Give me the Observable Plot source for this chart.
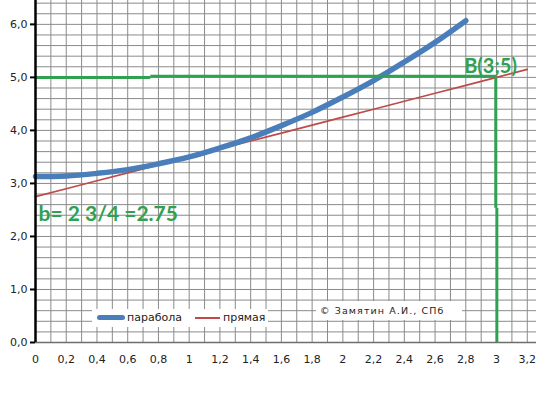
<!DOCTYPE html>
<html>
<head>
<meta charset="utf-8">
<script src="https://cdn.jsdelivr.net/npm/d3@7"></script>
<script src="https://cdn.jsdelivr.net/npm/@observablehq/plot@0.6"></script>
<style>
  html, body { margin: 0; padding: 0; background: #fff; }
  #wrap { position: relative; width: 536px; height: 399px; overflow: hidden; }
  #wrap svg { position: absolute; left: 0; top: 0; }
  .legend { position: absolute; left: 92px; top: 309px; width: 176px; height: 18px; background: #fff;
            font-family: "DejaVu Sans", sans-serif; font-size: 11px; color: #222; }
  .legend span { position: absolute; top: 1px; line-height: 16px; }
  .sw { position: absolute; }
  .copy { position: absolute; left: 316px; top: 301px; width: 146px; height: 19px; background: #fff;
          font-family: "DejaVu Sans", sans-serif; font-size: 9.5px; letter-spacing: 1.1px; color: #222;
          line-height: 19px; padding-left: 4px; box-sizing: border-box; white-space: nowrap; }
</style>
</head>
<body>
<div id="wrap"></div>
<script>
// ---- data ----
const xTicks = [0, 0.2, 0.4, 0.6, 0.8, 1, 1.2, 1.4, 1.6, 1.8, 2, 2.2, 2.4, 2.6, 2.8, 3, 3.2];
const xTickLabels = ["0", "0,2", "0,4", "0,6", "0,8", "1", "1,2", "1,4", "1,6", "1,8", "2", "2,2", "2,4", "2,6", "2,8", "3", "3,2"];
const yTicks = [0, 1, 2, 3, 4, 5, 6];
const yTickLabels = ["0,0", "1,0", "2,0", "3,0", "4,0", "5,0", "6,0"];
const xGridLines = [0.1, 0.2, 0.3, 0.4, 0.5, 0.6, 0.7, 0.8, 0.9, 1, 1.1, 1.2, 1.3, 1.4, 1.5, 1.6, 1.7, 1.8, 1.9, 2, 2.1, 2.2, 2.3, 2.4, 2.5, 2.6, 2.7, 2.8, 2.9, 3, 3.1, 3.2];
const yGridLines = [0.2, 0.4, 0.6, 0.8, 1, 1.2, 1.4, 1.6, 1.8, 2, 2.2, 2.4, 2.6, 2.8, 3, 3.2, 3.4, 3.6, 3.8, 4, 4.2, 4.4, 4.6, 4.8, 5, 5.2, 5.4, 5.6, 5.8, 6, 6.2, 6.4];

const parabolaX = [0, 0.2, 0.4, 0.6, 0.8, 1, 1.2, 1.4, 1.6, 1.8, 2, 2.2, 2.4, 2.6, 2.8];
const parabolaY = [3.13, 3.14, 3.19, 3.26, 3.37, 3.50, 3.67, 3.86, 4.09, 4.34, 4.63, 4.94, 5.29, 5.66, 6.07];

const lineX = [0, 0.2, 0.4, 0.6, 0.8, 1, 1.2, 1.4, 1.6, 1.8, 2, 2.2, 2.4, 2.6, 2.8, 3, 3.2];
const lineY = [2.75, 2.9, 3.05, 3.2, 3.35, 3.5, 3.65, 3.8, 3.95, 4.1, 4.25, 4.4, 4.55, 4.7, 4.85, 5.0, 5.15];

const greenH = [{x1: 0, x2: 0.75, y: 5.0}, {x1: 0.75, x2: 3.0, y: 5.02}];
const greenV = [{x: 2.995, y1: 5.0, y2: 2.53}, {x: 3.002, y1: 2.53, y2: 0}];

const pointB = [{x: 3, y: 5, label: "B(3;5)"}];
const interceptB = [{x: 0, y: 2.75, label: "b= 2 3/4 =2.75"}];

const parabola = parabolaX.map((x, i) => ({x, y: parabolaY[i]}));
const straight = lineX.map((x, i) => ({x, y: lineY[i]}));

const green = "#2fa150";
const blue = "#4a7ebb";
const red = "#be4b48";

const chart = Plot.plot({
  width: 536,
  height: 399,
  marginLeft: 35,
  marginRight: 0,
  marginTop: 0,
  marginBottom: 57,
  style: {background: "#fff", fontFamily: "DejaVu Sans, sans-serif"},
  x: {domain: [0, 3.26]},
  y: {domain: [0, 6.45]},
  marks: [
    Plot.gridX(xGridLines, {stroke: "#8a8a8a", strokeOpacity: 1, strokeWidth: 1}),
    Plot.gridY(yGridLines, {stroke: "#8a8a8a", strokeOpacity: 1, strokeWidth: 1}),
    Plot.ruleY([0], {stroke: "#6e6e6e", strokeWidth: 1.6}),
    Plot.axisX(xTicks, {
      tickSize: 0, tickPadding: 13, label: null, fontSize: 11, fill: "#222",
      tickFormat: d => xTickLabels[xTicks.indexOf(d)]
    }),
    Plot.axisY(yTicks, {
      tickSize: 5, tickPadding: 3, label: null, fontSize: 11, fill: "#222", stroke: "#000", strokeWidth: 2,
      tickFormat: d => yTickLabels[yTicks.indexOf(d)]
    }),
    Plot.line(straight, {x: "x", y: "y", stroke: red, strokeWidth: 1.7}),
    Plot.line(parabola, {x: "x", y: "y", stroke: blue, strokeWidth: 5.5, strokeLinecap: "round", curve: "catmull-rom"}),
    Plot.ruleY(greenH, {y: "y", x1: "x1", x2: "x2", stroke: green, strokeWidth: 3}),
    Plot.ruleX(greenV, {x: "x", y1: "y1", y2: "y2", stroke: green, strokeWidth: 3}),
    Plot.ruleX([0], {stroke: "#000", strokeWidth: 2.5}),
    Plot.text(pointB, {x: "x", y: "y", text: "label", fill: green, fontSize: 20, fontWeight: "bold",
      fontFamily: "Lato, sans-serif", textAnchor: "middle", lineAnchor: "bottom", dx: -6, dy: -4}),
    Plot.text(interceptB, {x: "x", y: "y", text: "label", fill: green, fontSize: 21, fontWeight: "bold",
      fontFamily: "Lato, sans-serif", textAnchor: "start", lineAnchor: "middle", dx: 3, dy: 18})
  ]
});

const wrap = document.getElementById("wrap");
wrap.appendChild(chart);

const legend = document.createElement("div");
legend.className = "legend";
legend.innerHTML =
  `<div class="sw" style="left:5px;top:6px;width:28px;height:5px;border-radius:2.5px;background:${blue}"></div>` +
  `<span style="left:35px">парабола</span>` +
  `<div class="sw" style="left:103px;top:8px;width:25px;height:2px;background:${red}"></div>` +
  `<span style="left:131px">прямая</span>`;
wrap.appendChild(legend);

const copy = document.createElement("div");
copy.className = "copy";
copy.textContent = "© Замятин А.И., СПб";
wrap.appendChild(copy);
</script>
</body>
</html>
